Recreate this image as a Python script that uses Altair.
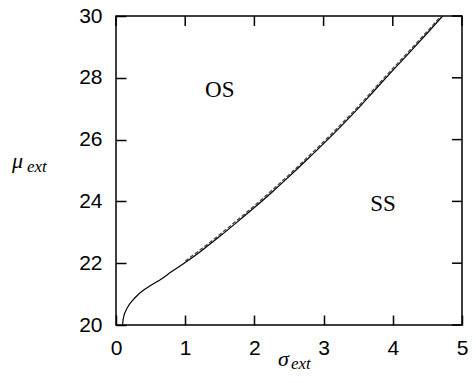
import altair as alt
import pandas as pd

# ---- data ----
sigma_solid = [0.095, 0.100, 0.115, 0.14, 0.18, 0.25, 0.30, 0.40, 0.50, 0.65, 0.80,
               1.00, 1.25, 1.50, 1.75, 2.00, 2.25, 2.50, 2.75, 3.00, 3.25, 3.50,
               3.75, 4.00, 4.25, 4.50, 4.72]
mu_solid = [20.00, 20.12, 20.30, 20.45, 20.62, 20.82, 20.94, 21.13, 21.28, 21.48, 21.72,
            22.02, 22.43, 22.87, 23.33, 23.80, 24.29, 24.80, 25.33, 25.87, 26.43, 27.01,
            27.63, 28.24, 28.84, 29.45, 30.00]

sigma_dashed = [1.00, 1.25, 1.50, 1.75, 2.00, 2.25, 2.50, 2.75, 3.00, 3.25, 3.50,
                3.75, 4.00, 4.25, 4.50, 4.70]
mu_dashed = [22.07, 22.49, 22.93, 23.39, 23.86, 24.35, 24.86, 25.39, 25.93, 26.49, 27.07,
             27.69, 28.30, 28.90, 29.51, 30.00]

x_ticks = [0, 1, 2, 3, 4, 5]
y_ticks = [20, 22, 24, 26, 28, 30]

region_labels = ["OS", "SS"]
region_sigma = [1.50, 3.86]
region_mu = [27.60, 23.93]

W, H = 346, 309

xs = alt.Scale(domain=[0, 5], nice=False, zero=False)
ys = alt.Scale(domain=[20, 30], nice=False, zero=False)

solid_df = pd.DataFrame({"sigma": sigma_solid, "mu": mu_solid})
dashed_df = pd.DataFrame({"sigma": sigma_dashed, "mu": mu_dashed})
xt_df = pd.DataFrame({"sigma": x_ticks})
yt_df = pd.DataFrame({"mu": y_ticks})
reg_df = pd.DataFrame({"sigma": region_sigma, "mu": region_mu, "lab": region_labels})
one = pd.DataFrame({"a": [0]})

common_axis = dict(format="d", offset=-10, tickSize=10, tickWidth=1.5, tickColor="black",
                   domain=False, grid=False, labelFlush=False, labelOverlap=False,
                   title=None, labelFont="Liberation Sans", labelFontSize=21,
                   labelColor="black")
x_axis = alt.Axis(values=x_ticks, labelPadding=12, **common_axis)
y_axis = alt.Axis(values=y_ticks, labelPadding=14, **common_axis)

X = alt.X("sigma:Q", scale=xs, axis=x_axis)
Y = alt.Y("mu:Q", scale=ys, axis=y_axis)

solid = alt.Chart(solid_df).mark_line(color="black", strokeWidth=1.2,
                                      interpolate="monotone").encode(x=X, y=Y)

dashed = alt.Chart(dashed_df).mark_line(color="#444444", strokeWidth=1.3,
                                        strokeDash=[4, 2],
                                        interpolate="monotone").encode(x=X, y=Y)

top_ticks = alt.Chart(xt_df).mark_rule(color="black", strokeWidth=1.5).encode(
    x=X, y=alt.value(0), y2=alt.value(10),
)
right_ticks = alt.Chart(yt_df).mark_rule(color="black", strokeWidth=1.5).encode(
    y=Y, x=alt.value(W - 10), x2=alt.value(W),
)

regions = alt.Chart(reg_df).mark_text(font="Liberation Serif", fontSize=23,
                                      color="black", align="center",
                                      baseline="middle").encode(
    x=X, y=Y, text="lab:N",
)

title_style = dict(font="Liberation Serif", fontStyle="italic", color="black",
                   align="left", baseline="alphabetic")
mu_main = alt.Chart(one).mark_text(text="μ", fontSize=22, **title_style).encode(
    x=alt.value(-104), y=alt.value(152))
mu_sub = alt.Chart(one).mark_text(text="ext", fontSize=17, **title_style).encode(
    x=alt.value(-89), y=alt.value(156))
sig_main = alt.Chart(one).mark_text(text="σ", fontSize=22, **title_style).encode(
    x=alt.value(162), y=alt.value(350))
sig_sub = alt.Chart(one).mark_text(text="ext", fontSize=17, **title_style).encode(
    x=alt.value(175), y=alt.value(353))

chart = alt.layer(
    solid, dashed, top_ticks, right_ticks, regions,
    mu_main, mu_sub, sig_main, sig_sub,
).properties(
    width=W, height=H,
    autosize=alt.AutoSizeParams(type="none"),
    padding={"left": 108, "top": 8, "right": 6, "bottom": 48},
).configure_view(
    stroke="black", strokeWidth=1.5
)

chart.save("out.html", embed_options={"renderer": "svg", "actions": False})
